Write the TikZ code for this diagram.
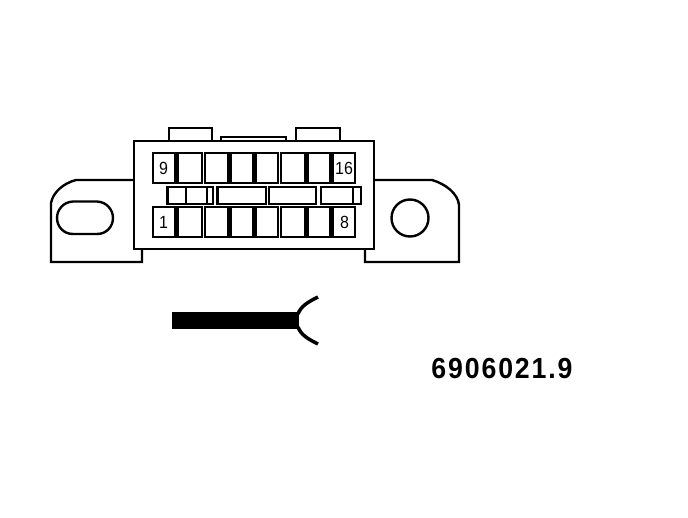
\documentclass[tikz,border=0pt]{standalone}
\usepackage{fontspec}
\setmainfont{Liberation Sans}
\newfontfamily\partfont[LetterSpace=7]{Liberation Sans Bold}
\tikzset{
  outline/.style={draw=black,line width=2.4pt,line join=miter,fill=white},
  thin line/.style={draw=black,line width=2.4pt},
  thick bar/.style={draw=black,line width=5pt},
  pinlabel/.style={font=\fontsize{16}{16}\selectfont,inner sep=0pt,text=black},
}
\begin{document}
\begin{tikzpicture}[x=1pt,y=-1pt]
\useasboundingbox (0,0) rectangle (688,518);
% brackets
\draw[outline] (134,180) -- (76,180) .. controls (64,183) and (53,192) .. (51,203) -- (51,262) -- (142,262) -- (142,249);
\draw[outline] (374,180) -- (432,180) .. controls (446,184) and (458,194) .. (459,205) -- (459,262) -- (365,262) -- (365,249);
% top tabs
\draw[outline] (169,141) -- (169,128) -- (212,128) -- (212,141);
\draw[outline] (296,141) -- (296,128) -- (340,128) -- (340,141);
\draw[outline] (221,141) -- (221,137) -- (286,137) -- (286,141);
% body
\draw[outline] (134,141) rectangle (374,249);
% mounting holes
\draw[thin line] (73,201.5) -- (97,201.5) .. controls (107,202) and (113,210) .. (113,218) .. controls (113,226) and (107,234) .. (97,234) -- (73,234) .. controls (63,234) and (57,226) .. (57,218) .. controls (57,210) and (63,202) .. (73,201.5) -- cycle;
\draw[thin line] (410,218) circle (18.5);
% pin rows
\foreach \ya/\yb in {153/183,207/237}{
  \draw[thin line] (153,\ya) rectangle (202,\yb);
  \draw[thin line] (205,\ya) rectangle (278,\yb);
  \draw[thin line] (281,\ya) rectangle (355,\yb);
  \foreach \xx in {176.5,229,254,306,331}
    \draw[thick bar] (\xx,\ya) -- (\xx,\yb);
}
% centre row
\draw[thin line] (167.5,187) rectangle (213,204);
\draw[thin line] (186,187) -- (186,204);
\draw[thin line] (207,187) -- (207,204);
\draw[thin line] (217.5,187) rectangle (266,204);
\draw[thin line] (269,187) rectangle (316,204);
\draw[thin line] (321,187) rectangle (361,204);
\draw[thin line] (353,187) -- (353,204);
% labels
\node[pinlabel] (p9) at (163.5,168) {\scalebox{1}[1.1]{9}};
\node[pinlabel] (p1) at (163.5,222) {\scalebox{1}[1.1]{1}};
\node[pinlabel] (p16) at (344,168) {\scalebox{1}[1.1]{16}};
\node[pinlabel] (p8) at (344.5,222) {\scalebox{1}[1.1]{8}};
% cable
\fill[black] (172,312) rectangle (299,329);
\draw[black,line width=3.5pt] (298,314) .. controls (301,306) and (308,302) .. (318,297);
\draw[black,line width=3.5pt] (298,327) .. controls (301,335) and (308,339) .. (318,344);
\node[inner sep=0pt,text=black,font=\partfont\fontsize{29}{29}\selectfont] (part) at (502,369) {\scalebox{0.92}[1]{6906021.9}};
\end{tikzpicture}
\end{document}
